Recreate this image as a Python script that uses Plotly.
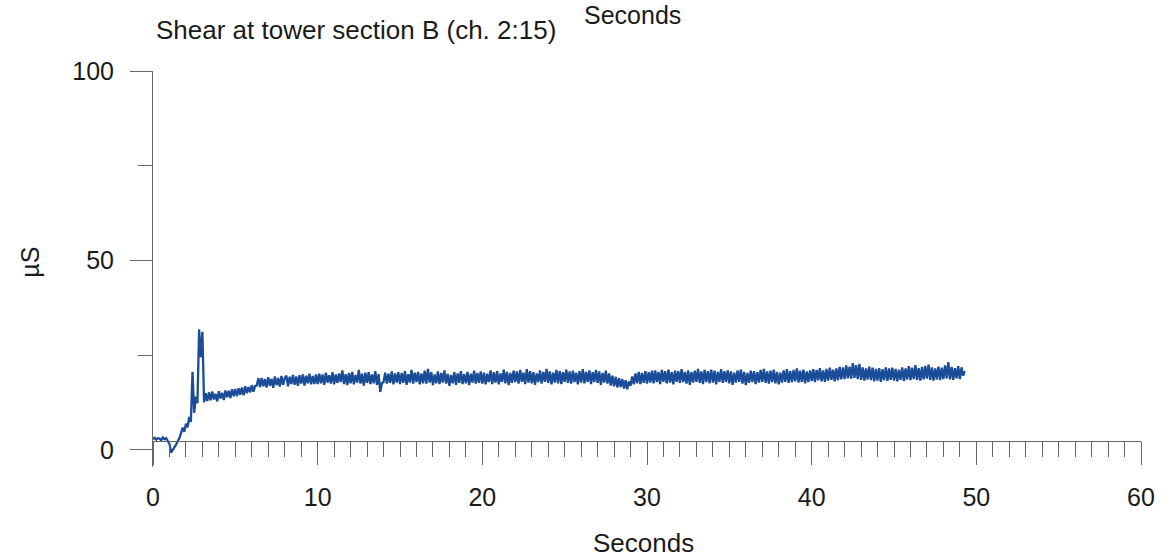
import plotly.graph_objects as go

# ---------------- data ----------------
SAMPLE_INTERVAL = 0.1  # seconds between samples

shear_00_05 = [2.9, 3.2, 2.7, 3.1, 3.0, 2.6, 3.3, 2.8, 3.1, 2.5,
               1.6, -0.7, -0.1, 0.6, 1.4, 2.3, 3.1, 4.4, 5.9, 4.8,
               6.9, 6.0, 8.7, 7.4, 20.6, 9.8, 14.1, 12.3, 31.8, 24.5,
               31.2, 12.6, 15.0, 12.9, 15.2, 13.1, 15.4, 13.3, 14.8, 12.8,
               15.5, 13.6, 15.1, 13.2, 15.7, 13.9, 15.6, 13.7, 16.0, 14.2]
shear_05_10 = [16.1, 14.2, 16.3, 14.6, 16.5, 14.4, 16.8, 15.0, 16.6, 15.2,
               17.1, 15.4, 16.9, 17.0, 18.9, 16.6, 19.0, 16.8, 18.7, 16.5,
               19.2, 16.9, 18.8, 16.4, 19.4, 17.1, 19.0, 16.7, 19.5, 17.2,
               18.9, 19.6, 16.8, 19.3, 17.4, 19.8, 17.2, 19.4, 16.9, 19.7,
               17.5, 19.9, 17.0, 19.6, 17.6, 20.1, 17.3, 19.5, 17.4, 19.9]
shear_10_15 = [17.4, 20.1, 17.6, 19.9, 17.2, 20.4, 17.8, 19.7, 17.5, 20.5,
               17.3, 19.9, 17.7, 20.2, 17.9, 21.0, 17.4, 20.0, 17.1, 20.3,
               17.6, 20.6, 17.3, 19.8, 17.8, 21.1, 17.5, 20.1, 17.0, 20.4,
               17.7, 20.5, 17.4, 19.9, 17.6, 20.8, 17.2, 20.0, 15.3, 17.6,
               17.9, 20.4, 17.5, 20.1, 17.7, 20.7, 17.3, 20.2, 17.8, 20.5]
shear_15_20 = [17.4, 20.3, 17.7, 20.8, 17.2, 20.0, 17.8, 21.1, 17.5, 20.4,
               17.9, 20.6, 17.3, 20.2, 17.6, 20.9, 17.5, 21.4, 17.8, 20.5,
               17.1, 19.9, 17.6, 20.7, 17.4, 20.3, 17.8, 21.0, 17.5, 20.1,
               16.9, 19.8, 17.6, 20.5, 17.2, 20.2, 17.7, 20.8, 17.4, 20.0,
               17.6, 20.6, 17.1, 20.1, 17.8, 20.9, 17.5, 20.3, 17.7, 20.7]
shear_20_25 = [17.5, 20.4, 17.3, 20.1, 17.9, 21.0, 17.4, 20.5, 17.8, 20.8,
               17.3, 20.2, 18.0, 21.2, 17.6, 20.6, 17.1, 20.3, 17.7, 20.9,
               17.9, 20.7, 17.5, 21.1, 18.0, 20.4, 17.4, 21.3, 17.8, 20.8,
               17.6, 20.5, 17.2, 20.2, 17.9, 21.0, 17.5, 20.6, 18.0, 21.4,
               17.7, 20.7, 17.3, 20.4, 17.8, 21.1, 17.6, 20.8, 17.4, 20.5]
shear_25_30 = [18.0, 21.2, 17.7, 20.7, 17.5, 20.9, 17.9, 20.4, 17.3, 20.8,
               17.8, 21.3, 17.6, 20.6, 18.0, 21.0, 17.4, 20.5, 17.9, 21.1,
               17.7, 20.7, 17.2, 20.3, 17.8, 20.9, 17.5, 20.2, 17.0, 19.6,
               16.8, 19.3, 16.5, 18.9, 16.6, 18.7, 16.2, 18.4, 16.0, 18.1,
               16.9, 19.4, 17.3, 20.2, 17.6, 20.6, 17.4, 20.3, 17.7, 20.8]
shear_30_35 = [17.5, 20.5, 17.8, 20.9, 17.6, 21.0, 17.9, 20.6, 17.4, 21.1,
               18.0, 20.8, 17.6, 21.2, 17.8, 20.5, 17.3, 20.9, 18.0, 20.8,
               17.7, 21.3, 17.9, 20.6, 17.5, 21.0, 17.2, 20.5, 17.8, 20.9,
               18.0, 21.4, 17.7, 20.7, 17.4, 21.1, 17.9, 20.8, 17.6, 21.2,
               17.8, 20.9, 17.3, 20.6, 18.0, 21.3, 17.7, 20.8, 17.9, 21.0]
shear_35_40 = [17.6, 20.7, 17.2, 20.4, 17.8, 21.0, 18.0, 21.2, 17.5, 20.6,
               17.1, 20.3, 17.7, 20.9, 17.9, 20.8, 17.4, 20.5, 17.8, 21.1,
               18.0, 21.4, 17.7, 20.7, 17.5, 20.9, 17.9, 21.2, 17.6, 20.6,
               17.3, 20.4, 17.8, 21.0, 18.0, 21.3, 17.7, 20.8, 17.9, 21.1,
               18.1, 21.5, 17.8, 20.9, 18.0, 21.2, 17.6, 20.7, 17.9, 21.0]
shear_40_45 = [18.2, 21.3, 17.9, 21.1, 18.4, 21.6, 18.1, 21.0, 18.0, 21.4,
               18.3, 21.7, 18.5, 21.2, 18.1, 21.5, 18.4, 21.9, 18.6, 21.8,
               18.7, 22.3, 18.9, 22.0, 18.8, 22.9, 19.0, 22.4, 18.7, 22.7,
               18.5, 21.8, 18.3, 21.5, 18.6, 22.0, 18.4, 21.7, 18.1, 21.4,
               18.3, 21.6, 18.0, 21.3, 18.4, 21.8, 18.2, 21.5, 18.5, 21.7]
shear_45_50 = [18.3, 21.4, 18.1, 21.2, 18.5, 21.8, 18.2, 21.5, 18.6, 22.1,
               18.4, 21.7, 18.7, 22.4, 18.5, 21.6, 18.3, 21.9, 18.6, 22.2,
               18.8, 22.5, 18.5, 21.8, 18.3, 21.5, 18.6, 22.0, 18.4, 21.7,
               18.7, 22.3, 18.9, 23.2, 18.6, 21.9, 18.5, 21.6, 18.9, 22.1,
               18.7, 21.8, 19.6, 20.8]

x_tick_vals = [0, 10, 20, 30, 40, 50, 60]
x_tick_text = ["0", "10", "20", "30", "40", "50", "60"]
y_tick_vals = [0, 50, 100]
y_tick_text = ["0", "50", "100"]
y_minor_vals = [25, 75]

title_text = "Shear at tower section B (ch. 2:15)"
x_title = "Seconds"
y_title = "µS"

# ---------------- build ----------------
shear = (shear_00_05 + shear_05_10 + shear_10_15 + shear_15_20 + shear_20_25 +
         shear_25_30 + shear_30_35 + shear_35_40 + shear_40_45 + shear_45_50)
seconds = [round(i * SAMPLE_INTERVAL, 3) for i in range(len(shear))]

FONT = "Liberation Sans, Arial, sans-serif"
AXIS_COLOR = "#666666"
TEXT_COLOR = "#1a1a1a"

fig = go.Figure()
fig.add_trace(go.Scatter(
    x=seconds, y=shear, mode="lines",
    line=dict(color="#1a4c98", width=2.3),
    showlegend=False, hoverinfo="skip",
))

fig.update_layout(
    width=1168, height=559, autosize=False,
    margin=dict(l=153, r=27, t=71, b=92, pad=0),
    paper_bgcolor="white", plot_bgcolor="white",
    font=dict(family=FONT, size=24, color=TEXT_COLOR),
    xaxis=dict(
        range=[0, 60], anchor="free", position=0.066,
        showline=True, linecolor=AXIS_COLOR, linewidth=1,
        showgrid=False, zeroline=False,
        tickmode="array", tickvals=x_tick_vals, ticktext=x_tick_text,
        ticks="outside", ticklen=23, tickcolor=AXIS_COLOR, tickwidth=1,
        ticklabelstandoff=11,
        tickfont=dict(family=FONT, size=25, color=TEXT_COLOR),
        minor=dict(dtick=1, ticks="outside", ticklen=15, tickcolor=AXIS_COLOR,
                   tickwidth=1, showgrid=False),
    ),
    yaxis=dict(
        range=[-4.5, 100],
        showline=True, linecolor=AXIS_COLOR, linewidth=1,
        showgrid=False, zeroline=False,
        tickmode="array", tickvals=y_tick_vals, ticktext=y_tick_text,
        ticks="outside", ticklen=22, tickcolor=AXIS_COLOR, tickwidth=1,
        ticklabelstandoff=11,
        tickfont=dict(family=FONT, size=25, color=TEXT_COLOR),
        minor=dict(tickmode="array", tickvals=y_minor_vals, ticks="outside",
                   ticklen=14, tickcolor=AXIS_COLOR, tickwidth=1, showgrid=False),
    ),
    annotations=[
        dict(text=title_text, xref="paper", yref="paper", x=0.2056, y=1.103,
             xanchor="center", yanchor="middle", showarrow=False,
             font=dict(family=FONT, size=26, color=TEXT_COLOR)),
        dict(text=x_title, xref="paper", yref="paper", x=0.485, y=1.142,
             xanchor="center", yanchor="middle", showarrow=False,
             font=dict(family=FONT, size=25, color=TEXT_COLOR)),
        dict(text=x_title, xref="paper", yref="paper", x=0.496, y=-0.192,
             xanchor="center", yanchor="middle", showarrow=False,
             font=dict(family=FONT, size=26, color=TEXT_COLOR)),
        dict(text=y_title, xref="paper", yref="paper", x=-0.1246, y=0.518,
             xanchor="center", yanchor="middle", showarrow=False, textangle=-90,
             font=dict(family=FONT, size=25, color=TEXT_COLOR)),
    ],
)

fig.write_html("out.html", config={"displayModeBar": False},
               post_script="document.body.style.margin='0';document.body.style.overflow='hidden';")
